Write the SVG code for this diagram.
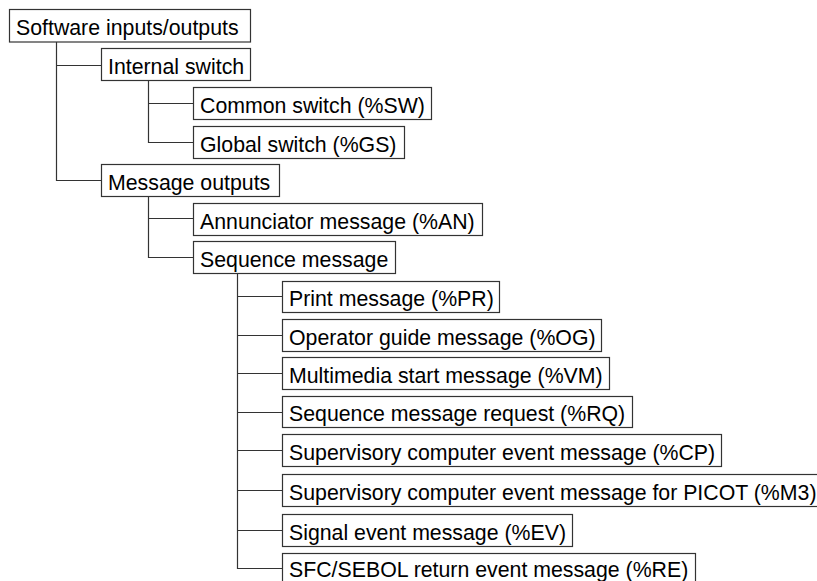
<svg xmlns="http://www.w3.org/2000/svg" width="817" height="581" viewBox="0 0 817 581">
<style>
rect{fill:#fff;stroke:#333;stroke-width:1.2}
text{font-family:"Liberation Sans",Arial,sans-serif;font-size:21.3px;fill:#000}
.c path{fill:none;stroke:#333;stroke-width:1.2}
</style>
<rect x="0" y="0" width="817" height="581" style="stroke:none"/>
<g class="c" id="connectors">
<path d="M56.5 42V180.5H101M56.5 65.5H101"/>
<path d="M148.5 80V142.5H193M148.5 103.5H193"/>
<path d="M148.5 196V257.5H193M148.5 218.5H193"/>
<path d="M237.5 273V568.5H282M237.5 296.5H282M237.5 335.5H282M237.5 373.5H282M237.5 412.5H282M237.5 450.5H282M237.5 490.5H282M237.5 530.5H282"/>
</g>
<g id="n0"><rect x="9.5" y="9.5" width="241" height="32.5"/><text x="16" y="35">Software inputs/outputs</text></g>
<g id="n1"><rect x="101.5" y="48.5" width="149" height="32"/><text x="108" y="73.5">Internal switch</text></g>
<g id="n2"><rect x="193.5" y="87.5" width="238" height="32"/><text x="200" y="112.5">Common switch (%SW)</text></g>
<g id="n3"><rect x="193.5" y="126.5" width="211" height="32"/><text x="200" y="151.5">Global switch (%GS)</text></g>
<g id="n4"><rect x="101.5" y="164.5" width="178" height="32"/><text x="108" y="189.5">Message outputs</text></g>
<g id="n5"><rect x="193.5" y="203.5" width="289" height="32"/><text x="200" y="228.5">Annunciator message (%AN)</text></g>
<g id="n6"><rect x="193.5" y="241.5" width="202" height="32"/><text x="200" y="266.5">Sequence message</text></g>
<g id="n7"><rect x="282.5" y="281.5" width="217" height="31"/><text x="289" y="306">Print message (%PR)</text></g>
<g id="n8"><rect x="282.5" y="319.5" width="319" height="32"/><text x="289" y="344.5">Operator guide message (%OG)</text></g>
<g id="n9"><rect x="282.5" y="357.5" width="327" height="32"/><text x="289" y="382.5">Multimedia start message (%VM)</text></g>
<g id="n10"><rect x="282.5" y="396.5" width="350" height="31"/><text x="289" y="421">Sequence message request (%RQ)</text></g>
<g id="n11"><rect x="282.5" y="434.5" width="439" height="32"/><text x="289" y="459.5">Supervisory computer event message (%CP)</text></g>
<g id="n12"><rect x="282.5" y="474.5" width="540" height="32"/><text x="289" y="499.5">Supervisory computer event message for PICOT (%M3)</text></g>
<g id="n13"><rect x="282.5" y="514.5" width="290" height="32"/><text x="289" y="539.5">Signal event message (%EV)</text></g>
<g id="n14"><rect x="282.5" y="553.5" width="413" height="34"/><text x="289" y="576.5">SFC/SEBOL return event message (%RE)</text></g>
</svg>
